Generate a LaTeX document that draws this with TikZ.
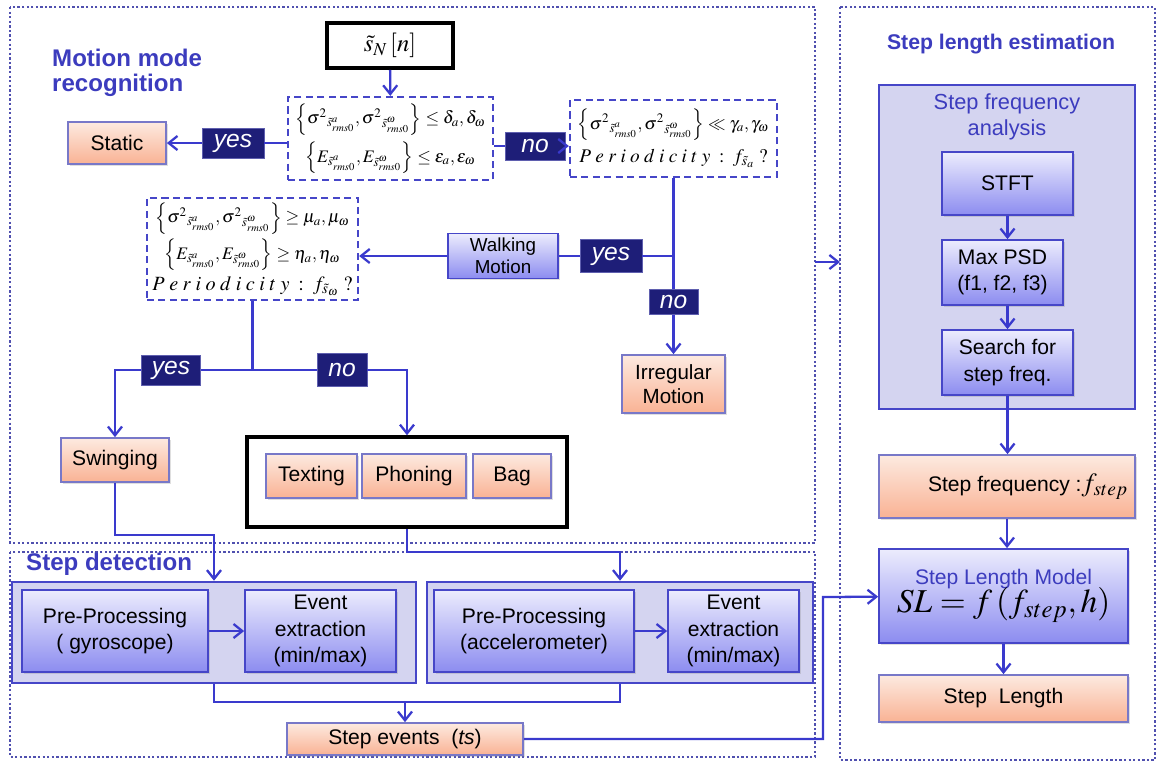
\documentclass[tikz,border=0pt]{standalone}
\usepackage{mathptmx}
\usepackage{fontspec}
\setmainfont{Liberation Sans}
\usetikzlibrary{arrows.meta, shadows}

\definecolor{linecol}{RGB}{58,58,205}
\definecolor{framecol}{RGB}{80,80,175}
\definecolor{navy}{RGB}{30,30,120}
\definecolor{navyedge}{RGB}{95,95,175}
\definecolor{orangetop}{RGB}{253,234,224}
\definecolor{orangebot}{RGB}{249,178,148}
\definecolor{orangeedge}{RGB}{120,120,200}
\definecolor{bluetop}{RGB}{236,236,253}
\definecolor{bluebot}{RGB}{140,140,240}
\definecolor{blueedge}{RGB}{70,70,200}
\definecolor{groupfill}{RGB}{212,212,240}
\definecolor{titlecol}{RGB}{60,60,190}

\newcommand{\srms}[1]{\tilde{s}^{#1}_{rms0}}

\begin{document}
\begin{tikzpicture}[x=0.02cm, y=-0.02cm,
    >={Straight Barb[length=5pt,width=8pt]},
    wh/.style 2 args={minimum width=#1*0.02cm, minimum height=#2*0.02cm},
    base/.style={inner sep=1pt, align=center, font=\fontsize{12}{15}\selectfont},
    orangebox/.style={base, draw=orangeedge, line width=1pt, top color=orangetop, bottom color=orangebot,
        drop shadow={opacity=0.25, shadow xshift=1pt, shadow yshift=-1pt}},
    bluebox/.style={base, draw=blueedge, line width=1pt, top color=bluetop, bottom color=bluebot,
        drop shadow={opacity=0.25, shadow xshift=1pt, shadow yshift=-1pt}},
    groupbox/.style={draw=blueedge, line width=1.5pt, fill=groupfill, inner sep=0pt},
    condbox/.style={base, draw=blueedge, line width=1.3pt, dash pattern=on 4pt off 2.5pt, fill=white,
        font=\fontsize{10}{12}\selectfont},
    answer/.style={base, draw=navyedge, fill=navy, text=white, font=\fontsize{14}{16}\selectfont\itshape},
    flow/.style={draw=linecol, line width=1.3pt},
    frame/.style={draw=framecol, line width=1.3pt, dash pattern=on 1.3pt off 1.3pt},
    title/.style={text=titlecol, align=left, font=\fontsize{13.7}{14.5}\selectfont\bfseries}]
  \useasboundingbox (0,0) rectangle (1159,765);

  % dotted frames
  \draw[frame] (10,7) rectangle (815,543);
  \draw[frame] (10,552) rectangle (815,757);
  \draw[frame] (840,7) rectangle (1155,760);

  % titles
  \node[title, anchor=west] (mmtitle) at (46,73) {Motion mode\\recognition};
  \node[title, font=\fontsize{12.1}{14}\selectfont\bfseries] (sltitle) at (1001,44) {Step length estimation};
  \node[title, anchor=west] (sdtitle) at (20,564) {Step detection};

  % motion mode recognition
  \node[draw=black, line width=2pt, fill=white, wh={126}{45}, font=\fontsize{14}{16}\selectfont] (sn) at (390,45.5) {$\tilde{s}_{N}\left[n\right]$};
  \node[condbox, wh={205}{83}] (cond1) at (390.5,138.5) {%
    $\left\{\sigma^{2}{}_{\srms{a}},\sigma^{2}{}_{\srms{\omega}}\right\}\leq\delta_{a},\delta_{\omega}$\\[3pt]
    $\left\{E_{\srms{a}},E_{\srms{\omega}}\right\}\leq\varepsilon_{a},\varepsilon_{\omega}$};
  \node[orangebox, wh={98}{42}] (static) at (117,143) {Static};
  \node[answer, wh={62}{30}] (yes1) at (233,143) {yes};
  \node[answer, wh={60}{28}] (no1) at (535,146) {no};
  \node[condbox, wh={207}{77}] (cond2) at (673.5,138.5) {%
    $\left\{\sigma^{2}{}_{\srms{a}},\sigma^{2}{}_{\srms{\omega}}\right\}\ll\gamma_{a},\gamma_{\omega}$\\[4pt]
    {\fontsize{11}{13}\selectfont$P\;e\;r\;i\;o\;d\;i\;c\;i\;t\;y\;:\;f_{\tilde{s}_{a}}\;?$}};
  \node[condbox, wh={211}{102}] (cond3) at (252.5,249) {%
    $\left\{\sigma^{2}{}_{\srms{a}},\sigma^{2}{}_{\srms{\omega}}\right\}\geq\mu_{a},\mu_{\omega}$\\[2pt]
    $\left\{E_{\srms{a}},E_{\srms{\omega}}\right\}\geq\eta_{a},\eta_{\omega}$\\[2pt]
    {\fontsize{11.5}{13}\selectfont$P\;e\;r\;i\;o\;d\;i\;c\;i\;t\;y\;:\;f_{\tilde{s}_{\omega}}\;?$}};
  \node[bluebox, wh={110}{45}, font=\fontsize{10.7}{12.5}\selectfont] (walk) at (503,256) {Walking\\Motion};
  \node[answer, wh={62}{33}] (yes2) at (611,256) {yes};
  \node[answer, wh={49}{25}] (no2) at (673.5,302) {no};
  \node[orangebox, wh={103}{58}, font=\fontsize{11.7}{14}\selectfont] (irreg) at (673.5,384) {Irregular\\Motion};
  \node[answer, wh={59}{30}] (yes3) at (171,370) {yes};
  \node[answer, wh={50}{33}] (no3) at (342,370) {no};
  \node[orangebox, wh={108}{44}] (swing) at (115,460) {Swinging};
  \node[draw=black, line width=2pt, fill=white, wh={320}{90}] (modes) at (407,482) {};
  \node[orangebox, wh={91}{44}] (texting) at (311.5,476) {Texting};
  \node[orangebox, wh={104}{44}] (phoning) at (414,476) {Phoning};
  \node[orangebox, wh={78}{44}] (bag) at (512,476) {Bag};

  % step detection
  \node[groupbox, wh={404}{101}] (gyro) at (214,632.5) {};
  \node[groupbox, wh={386}{101}] (acc) at (620,632.5) {};
  \node[bluebox, wh={186}{82}] (pregyro) at (115,631) {Pre-Processing\\( gyroscope)};
  \node[bluebox, wh={151}{82}] (evgyro) at (320.5,631) {Event\\extraction\\(min/max)};
  \node[bluebox, wh={200}{82}] (preacc) at (534,631) {Pre-Processing\\(accelerometer)};
  \node[bluebox, wh={131}{82}] (evacc) at (733.5,631) {Event\\extraction\\(min/max)};
  \node[orangebox, wh={236}{32}] (steps) at (405,739) {Step events \ (\textit{ts})};

  % step length estimation
  \node[groupbox, wh={256}{324}] (sfa) at (1007,247) {};
  \node[base, text=titlecol, font=\fontsize{12.4}{15}\selectfont] (sfatitle) at (1007,117) {Step frequency\\analysis};
  \node[bluebox, wh={131}{63}] (stft) at (1007.5,183.5) {STFT};
  \node[bluebox, wh={121}{65}] (maxpsd) at (1002.5,272.5) {Max PSD\\(f1, f2, f3)};
  \node[bluebox, wh={131}{65}] (search) at (1007.5,362.5) {Search for\\step freq.};
  \node[orangebox, wh={256}{63}] (sfreq) at (1007,486.5) {\hspace{2em}Step frequency :{\fontsize{15}{16}\selectfont$f_{step}$}};
  \node[bluebox, wh={249}{94}] (slm) at (1003.5,596) {{\color{titlecol}Step Length Model}\\[-2pt]{\fontsize{19}{22}\selectfont$SL=f\left(f_{step},h\right)$}};
  \node[orangebox, wh={249}{47}] (sl) at (1003.5,698.5) {Step \ Length};

  % decisions
  \draw[flow,->] (sn) -- (cond1);
  \draw[flow] (cond1.west |- yes1) -- (yes1);
  \draw[flow,->] (yes1) -- (static);
  \draw[flow] (cond1.east |- no1) -- (no1);
  \draw[flow,->] (no1) -- (cond2.west |- no1);
  \coordinate (j1) at (cond2.south |- walk);
  \draw[flow] (cond2.south) -- (j1) -- (yes2);
  \draw[flow] (yes2) -- (walk);
  \draw[flow,->] (walk) -- (cond3.east |- walk);
  \draw[flow] (j1) -- (no2);
  \draw[flow,->] (no2) -- (irreg);
  \coordinate (j2) at (cond3.south |- yes3);
  \draw[flow] (cond3.south) -- (j2) -- (yes3);
  \draw[flow,->] (yes3) -| (swing);
  \draw[flow] (j2) -- (no3);
  \draw[flow,->] (no3) -| (modes);

  % into step detection
  \coordinate (c1) at (214,535);
  \draw[flow,->] (swing) |- (c1) -- (gyro);
  \coordinate (c2) at (620,552);
  \draw[flow,->] (modes) |- (c2) -- (acc);
  \draw[flow,->] (pregyro) -- (evgyro);
  \draw[flow,->] (preacc) -- (evacc);
  \coordinate (c3) at (405,702);
  \draw[flow] (gyro) |- (c3) -| (acc);
  \draw[flow,->] (c3) -- (steps);
  \coordinate (c4) at (823,597);
  \draw[flow,->] (steps) -| (c4) -- (slm);

  % motion part to step length part
  \coordinate (m1) at (815,262);
  \coordinate (m2) at (840,262);
  \draw[flow,->] (m1) -- (m2);

  % step length estimation chain
  \draw[flow,->] (stft) -- (stft.south |- maxpsd.north);
  \draw[flow,->] (stft.south |- maxpsd.south) -- (search.north);
  \draw[flow,->] (search) -- (search.south |- sfreq.north);
  \draw[flow,->] (sfreq) -- (sfreq.south |- slm.north);
  \draw[flow,->] (slm) -- (sl);
\end{tikzpicture}
\end{document}
